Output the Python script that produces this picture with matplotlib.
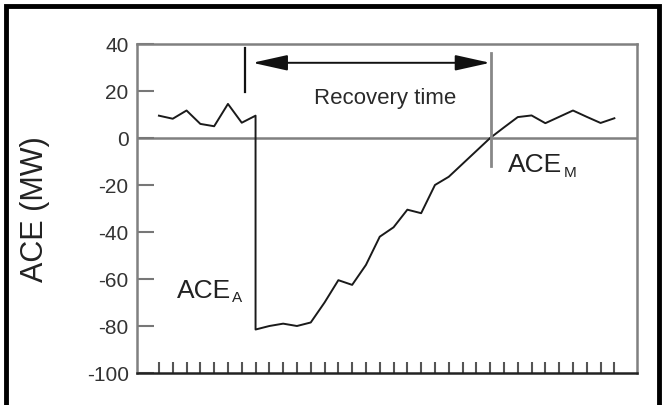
import matplotlib.pyplot as plt
from matplotlib.patches import Rectangle

# ACE trace, one value per tick (index 7 appears twice: the step)
x_idx = [0, 1, 2, 3, 4, 5, 6, 7, 7, 8, 9, 10, 11, 12, 13, 14, 15, 16, 17,
         18, 19, 20, 21, 22, 23, 24, 25, 26, 27, 28, 29, 30, 31, 32, 33]
ace = [9.5, 8.2, 11.7, 6, 5, 14.5, 6.5, 9.5, -81.5, -80, -79, -80, -78.5, -70,
       -60.5, -62.5, -54, -42, -38, -30.5, -32, -20, -16.5, -11, -5.5, 0,
       4.5, 8.9, 9.6, 6.3, 9, 11.7, 9, 6.4, 8.4]

n_ticks = 34
y_ticks = [40, 20, 0, -20, -40, -60, -80, -100]
y_label = "ACE (MW)"

# annotation anchors (data units)
start_x, start_lo, start_hi = 6.23, 19.7, 38.2
end_x, end_lo, end_hi = 24.05, -12, 36
arrow_y = 32
arrow_x0 = 6.78

plt.rcParams['font.family'] = ['Liberation Sans', 'DejaVu Sans']
plt.rcParams['axes.unicode_minus'] = False

fig = plt.figure(figsize=(6.63, 4.06), dpi=100)
ax = fig.add_axes([137 / 663, 1 - 374 / 406, 500 / 663, 329 / 406])

ax.plot(x_idx, ace, color='#1a1a1a', lw=1.4)
ax.axhline(0, color='#808080', lw=1.8, zorder=1)

ax.set_xlim(-1.59, 34.64)
ax.set_ylim(-100, 40)

ax.set_xticks(range(n_ticks))
ax.set_xticklabels([])
ax.tick_params(axis='x', direction='in', length=8, width=1.5, color='#555555')
ax.set_yticks(y_ticks)
ax.set_yticklabels([str(v) for v in y_ticks], fontsize=15, color='#333333')
ax.tick_params(axis='y', direction='in', length=12, width=1.5, color='#777777', pad=6)

for s in ['top', 'right', 'left']:
    ax.spines[s].set_color('#808080')
    ax.spines[s].set_linewidth(1.8)
ax.spines['bottom'].set_color('#222222')
ax.spines['bottom'].set_linewidth(1.8)

ax.set_ylabel(y_label, fontsize=22, color='#222222')
ax.yaxis.set_label_coords(-0.174, 0.5)

# markers of recovery interval
ax.plot([start_x, start_x], [start_lo, start_hi], color='#111111', lw=1.6)
ax.plot([end_x, end_x], [end_lo, end_hi], color='#888888', lw=2)
ax.annotate('', xy=(end_x - 0.05, arrow_y), xytext=(arrow_x0, arrow_y),
            arrowprops=dict(arrowstyle='<|-|>,head_length=1.08,head_width=0.24',
                            mutation_scale=20, color='#111111', lw=1.4,
                            shrinkA=0, shrinkB=0))
ax.text(16.4, 17.4, "Recovery time", fontsize=16, ha='center', va='center',
        color='#2a2a2a')
ax.text(1.3, -67.5, "ACE", fontsize=19, color='#222222')
ax.text(5.3, -69.5, "A", fontsize=11, color='#222222')
ax.text(25.3, -14, "ACE", fontsize=19, color='#222222')
ax.text(29.3, -16, "M", fontsize=11, color='#222222')

# outer black frame
fig.patches.append(Rectangle((6 / 663, -0.05), 653 / 663, 1.05 - 7 / 406,
                             transform=fig.transFigure, fill=False,
                             edgecolor='black', lw=3.5))

fig.savefig('out.png', dpi=100)
